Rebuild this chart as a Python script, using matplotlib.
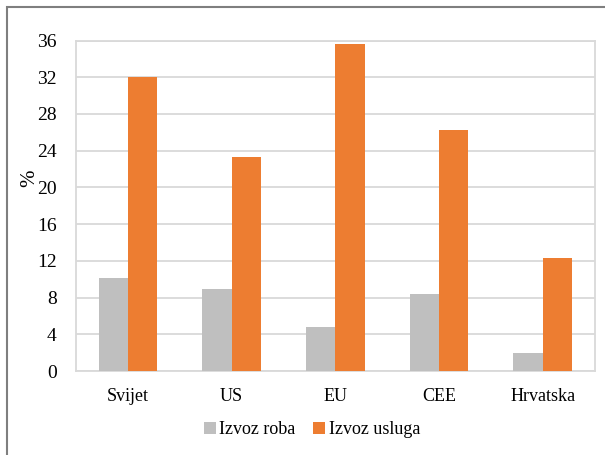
import numpy as np
import matplotlib.pyplot as plt
from matplotlib.patches import Rectangle

categories = ["Svijet", "US", "EU", "CEE", "Hrvatska"]
izvoz_roba = [10.1, 8.9, 4.8, 8.4, 2.0]
izvoz_usluga = [32.0, 23.3, 35.6, 26.2, 12.3]
yticks = [0, 4, 8, 12, 16, 20, 24, 28, 32, 36]

plt.rcParams["font.family"] = ["Liberation Serif", "DejaVu Serif"]

fig = plt.figure(figsize=(6.05, 4.55), dpi=100)
ax = fig.add_axes([76 / 605, 1 - 371 / 455, (594.7 - 76) / 605, (371 - 40.5) / 455])

x = np.arange(len(categories))
w = 0.283
ax.bar(x - w / 2, izvoz_roba, w, color="#bfbfbf", label="Izvoz roba", zorder=3)
ax.bar(x + w / 2, izvoz_usluga, w, color="#ed7d31", label="Izvoz usluga", zorder=3)

ax.set_xlim(-0.5, len(categories) - 0.5)
ax.set_ylim(0, 36)
ax.set_yticks(yticks)
ax.set_xticks(x)
ax.set_xticklabels(categories)
ax.tick_params(axis="y", length=0, labelsize=14, colors="black", pad=14)
ax.tick_params(axis="x", length=0, labelsize=13, colors="black", pad=12)
ax.grid(axis="y", color="#d9d9d9", linewidth=1.3, zorder=0)
for s in ax.spines.values():
    s.set_color("#d9d9d9")
    s.set_linewidth(1.3)
ax.set_ylabel("%", fontsize=15)
ax.yaxis.set_label_coords(-0.071, 0.584)

leg = fig.legend(loc="center", bbox_to_anchor=(312 / 605, 1 - 430 / 455), ncol=2,
                 frameon=False, fontsize=13, handlelength=0.65, handleheight=0.65,
                 handletextpad=0.2, columnspacing=1.0)

# outer chart frame (continues past right and bottom edge)
fig.patches.append(Rectangle((7 / 605, -0.1), 1.2, 1 - 7 / 455 + 0.1,
                             transform=fig.transFigure, fill=False,
                             edgecolor="#7f7f7f", linewidth=1.5))

fig.savefig("out.png", dpi=100)
